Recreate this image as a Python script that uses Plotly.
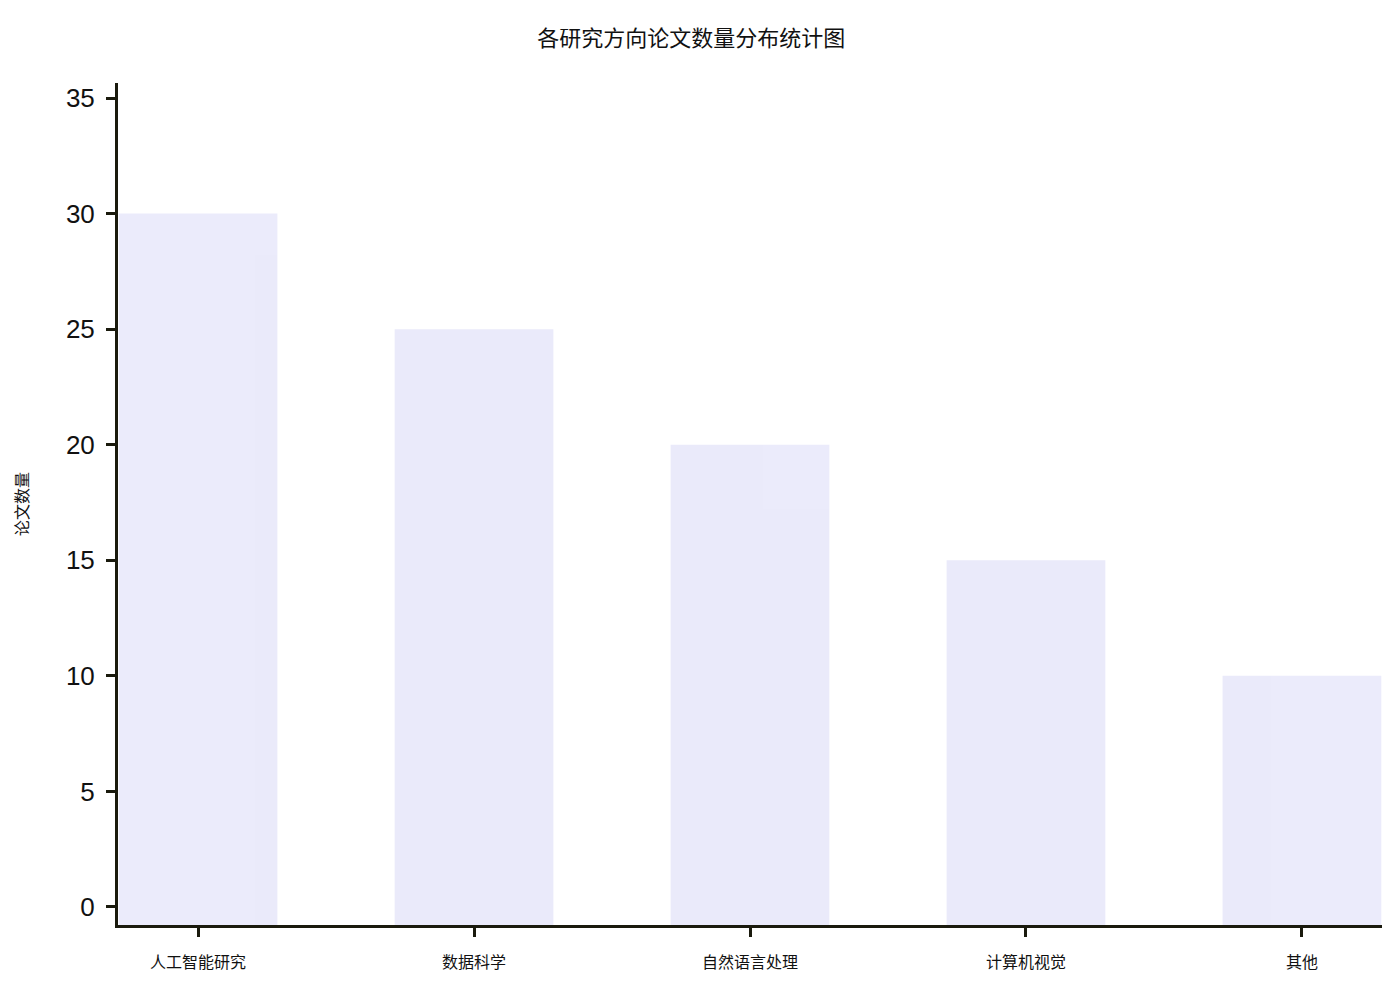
import plotly.graph_objects as go

categories = ["人工智能研究", "数据科学", "自然语言处理", "计算机视觉", "其他"]
values = [30, 25, 20, 15, 10]
y_ticks = [0, 5, 10, 15, 20, 25, 30, 35]
title_text = "各研究方向论文数量分布统计图"
y_title = "论文数量"

y_min, y_max = -0.78, 35.65
axis_color = "#1a1a0d"
cjk = "Noto Sans CJK SC"

fig = go.Figure(
    go.Bar(
        x=categories,
        y=[v - y_min for v in values],
        base=y_min,
        marker=dict(color="lavender", line=dict(width=0)),
        opacity=0.8,
        width=0.575,
        hoverinfo="skip",
    )
)

fig.update_layout(
    width=1400,
    height=1000,
    margin=dict(l=110, r=26, t=75, b=83),
    paper_bgcolor="white",
    plot_bgcolor="white",
    showlegend=False,
    title=dict(
        text=title_text,
        x=0.488,
        xanchor="center",
        y=0.97,
        yanchor="middle",
        font=dict(family=cjk, size=22, color="#111111"),
    ),
    xaxis=dict(
        range=[-0.29, 4.29],
        showline=True,
        linecolor=axis_color,
        linewidth=3,
        ticks="outside",
        ticklen=9,
        tickwidth=3,
        tickcolor=axis_color,
        showgrid=False,
        zeroline=False,
        ticklabelstandoff=12,
        tickfont=dict(family=cjk, size=16, color="#111111"),
        fixedrange=True,
    ),
    yaxis=dict(
        range=[y_min, y_max],
        tickvals=y_ticks,
        showline=True,
        linecolor=axis_color,
        linewidth=3,
        ticks="outside",
        ticklen=9,
        tickwidth=3,
        tickcolor=axis_color,
        showgrid=False,
        zeroline=False,
        ticklabelstandoff=6,
        tickfont=dict(family="Liberation Sans, Arial", size=26, color="#111111"),
        title=dict(text=y_title, font=dict(family=cjk, size=16, color="#111111"), standoff=34),
    ),
)

fig.write_html("out.html")
